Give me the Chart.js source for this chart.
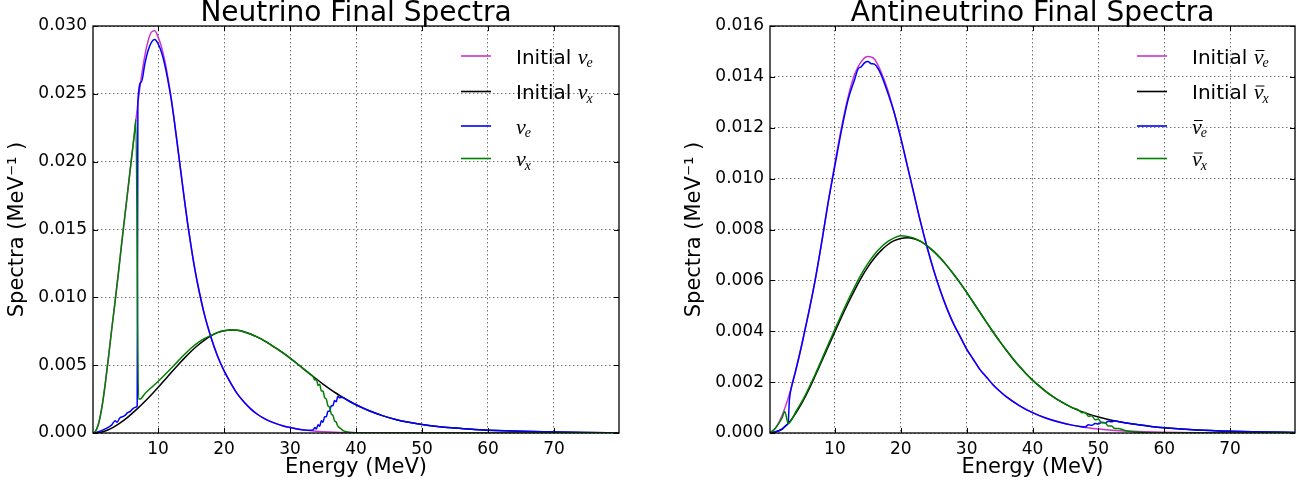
<!DOCTYPE html>
<html>
<head>
<meta charset="utf-8">
<script src="https://cdn.jsdelivr.net/npm/chart.js@4.4.0/dist/chart.umd.min.js"></script>
<style>
body { margin: 0; background: #fff; }
#wrap { position: relative; width: 1307px; height: 486px; }
canvas { position: absolute; top: 0; }
#c1 { left: 0; }
#c2 { left: 650px; }
</style>
</head>
<body>
<div id="wrap">
<canvas id="c1" width="650" height="486"></canvas>
<canvas id="c2" width="657" height="486"></canvas>
</div>
<script>
// tick labels
const xTicks = [10, 20, 30, 40, 50, 60, 70];
const yTicksL = [0, 0.005, 0.010, 0.015, 0.020, 0.025, 0.030];
const yTicksR = [0, 0.002, 0.004, 0.006, 0.008, 0.010, 0.012, 0.014, 0.016];

// energies for the initial nu_x curves (both panels)
const nuX0_E = [0.15, 1, 2, 3, 4, 5, 6, 7, 8, 9, 10, 11, 12, 13, 14, 15, 16, 17, 18, 19,
  20, 21, 22, 23, 24, 25, 26, 27, 28, 29, 30, 31, 32, 33, 34, 35, 36, 37, 38, 39,
  40, 41, 42, 43, 44, 46, 48, 50, 52, 55, 58, 60, 65, 70, 75, 79.85];

// ---- left panel: neutrinos ----
// initial nu_e (magenta)
const nuE0_E = [0.15, 0.5, 1, 1.5, 2, 2.5, 3, 3.5, 4, 4.5, 5, 5.5, 6, 6.5, 7, 7.5, 8, 8.5, 9, 9.5,
  10, 10.5, 11, 11.5, 12, 12.5, 13, 13.5, 14, 14.5, 15, 15.5, 16, 17, 18, 19, 20, 21, 22, 23,
  24, 25, 26, 27, 28, 29, 30, 32, 34, 36, 38, 40, 45, 79.85];
const nuE0 = [0, 0.0001, 0.0007, 0.0019, 0.0036, 0.0056, 0.0077, 0.0097, 0.0118, 0.0140,
  0.0161, 0.0182, 0.0203, 0.0224, 0.0245, 0.0263, 0.0278, 0.0289, 0.02955, 0.02965,
  0.0292, 0.0285, 0.0275, 0.0262, 0.0247, 0.0229, 0.0210, 0.0191, 0.0172, 0.0154,
  0.0138, 0.0123, 0.0110, 0.0088, 0.0071, 0.0057, 0.0046, 0.0037, 0.0029, 0.0023,
  0.0018, 0.0014, 0.0011, 0.00086, 0.00067, 0.00052, 0.0004,
  0.00023, 0.00013, 0.00007, 0.00004, 0.00002, 0, 0];

// initial nu_x (black)
const nuX0 = [0, 0.00003, 0.00015, 0.00036, 0.00065, 0.0010, 0.00141, 0.00185, 0.00232, 0.00282,
  0.00335, 0.0039, 0.00446, 0.0050, 0.00552, 0.00601, 0.00645, 0.00683, 0.00716, 0.0074,
  0.00754, 0.0076, 0.00757, 0.00747, 0.0073, 0.00708, 0.00683, 0.00654, 0.00622, 0.00588,
  0.00552, 0.00514, 0.00475, 0.00436, 0.00398, 0.00361, 0.00326, 0.00293, 0.00262, 0.00234,
  0.00208, 0.00185, 0.00164, 0.00145, 0.00128,
  0.0010, 0.00079, 0.00063, 0.0005, 0.00036, 0.00026, 0.00021, 0.00012, 0.00007, 0.00004, 0.00002];

// final nu_e (blue)
const nuE_E = [0.15, 1, 2, 3, 3.5, 3.8, 4.2, 4.6, 5, 5.4, 5.8, 6.2, 6.6, 6.85, 6.95, 7.5, 8, 8.5, 9, 9.5,
  10, 10.5, 11, 11.5, 12, 12.5, 13, 13.5, 14, 14.5, 15, 15.5, 16, 17, 18, 19, 20, 21, 22, 23,
  24, 25, 26, 27, 28, 29, 30, 31, 32, 33, 33.5, 33.75, 34, 34.25, 34.5, 34.75, 35, 35.25, 35.5, 35.75,
  36, 36.25, 36.5, 36.75, 37, 37.25, 37.5, 38, 38.5, 39, 40, 42, 44, 46, 48, 50, 52, 55, 58, 60,
  65, 70, 75, 79.85];
const nuE = [0, 0.0001, 0.0003, 0.0006, 0.0009, 0.0008, 0.0011, 0.0012, 0.0013, 0.0015,
  0.0016, 0.0018, 0.0019, 0.0020, 0.0244, 0.0259, 0.0272, 0.0282, 0.0288, 0.0290,
  0.0287, 0.0281, 0.0272, 0.0260, 0.0246, 0.0229, 0.0210, 0.0191, 0.0172, 0.0154,
  0.0138, 0.0123, 0.0110, 0.0088, 0.0071, 0.0057, 0.0046, 0.0037, 0.0029, 0.0023,
  0.0018, 0.0014, 0.0011, 0.00086, 0.00067, 0.00052, 0.0004, 0.0003, 0.00023, 0.0002,
  0.00022, 0.0004, 0.0003, 0.0006, 0.0005, 0.0009, 0.0008, 0.0012, 0.0012, 0.0016,
  0.0016, 0.0020, 0.0020, 0.0024, 0.0023, 0.0027, 0.0026, 0.00262, 0.00248, 0.00234,
  0.00208, 0.00164, 0.00128, 0.0010, 0.00079, 0.00063, 0.0005, 0.00036, 0.00026, 0.00021,
  0.00012, 0.00007, 0.00004, 0.00002];

// final nu_x (green)
const nuX_E = [0.15, 0.5, 1, 1.5, 2, 2.5, 3, 3.5, 4, 4.5, 5, 5.5, 6, 6.5, 6.65, 7.05, 7.3, 8, 9, 10,
  11, 12, 13, 14, 15, 16, 17, 18, 19, 20, 21, 22, 23, 24, 25, 26, 27, 28, 29, 30,
  31, 32, 33, 33.5, 33.75, 34, 34.25, 34.5, 34.75, 35, 35.25, 35.5, 35.75, 36, 36.25, 36.5, 36.75, 37, 37.25, 37.5,
  38, 38.5, 39, 40, 45, 79.85];
const nuX = [0, 0.0001, 0.0007, 0.0019, 0.0036, 0.0056, 0.0077, 0.0097, 0.0118, 0.0140,
  0.0161, 0.0182, 0.0203, 0.0224, 0.0231, 0.0025, 0.0025, 0.0029, 0.00335, 0.0038,
  0.00428, 0.00478, 0.00528, 0.00578, 0.00625, 0.00665, 0.00695, 0.0072, 0.0074, 0.00754,
  0.0076, 0.00757, 0.00747, 0.0073, 0.00708, 0.00683, 0.00654, 0.00622, 0.00588, 0.00552,
  0.00514, 0.00475, 0.00436, 0.00415, 0.0039, 0.00395, 0.0035, 0.0036, 0.0031, 0.0031,
  0.0026, 0.0025, 0.0020, 0.0019, 0.0014, 0.0013, 0.0009, 0.0008, 0.0005, 0.0004,
  0.0002, 0.0001, 0.00005, 0.00002, 0, 0];

// ---- right panel: antineutrinos ----
// initial anti nu_e (magenta)
const aE0_E = [0.15, 1, 2, 3, 4, 5, 6, 7, 8, 9, 10, 11, 12, 13, 14, 15, 16, 17, 18, 19,
  20, 21, 22, 23, 24, 25, 26, 27, 28, 29, 30, 31, 32, 33, 34, 35, 36, 38, 40, 42,
  44, 46, 48, 50, 52, 55, 60, 65, 70, 79.85];
const aE0 = [0, 0.0002, 0.0007, 0.00145, 0.0024, 0.0035, 0.0047, 0.0060, 0.0075, 0.0091,
  0.0106, 0.0120, 0.0132, 0.0141, 0.0146, 0.0148, 0.0147, 0.0142, 0.0135, 0.0126,
  0.0116, 0.0105, 0.0094, 0.0083, 0.0073, 0.0064, 0.0056, 0.0049, 0.0043, 0.0038,
  0.0033, 0.0029, 0.0025, 0.0022, 0.0019, 0.00165, 0.00143, 0.00108, 0.0008, 0.00059,
  0.00043, 0.00031, 0.00022, 0.00016, 0.00011, 0.00007, 0.00003, 0.00001, 0, 0];

// initial anti nu_x (black)
const aX0 = [0, 0.00004, 0.00016, 0.0004, 0.00075, 0.00118, 0.00168, 0.00224, 0.00282, 0.0034,
  0.00398, 0.00455, 0.0051, 0.00562, 0.0061, 0.00652, 0.00688, 0.00717, 0.0074, 0.00756,
  0.00765, 0.00768, 0.00764, 0.00753, 0.00736, 0.00714, 0.00688, 0.00658, 0.00625, 0.0059,
  0.00553, 0.00514, 0.00475, 0.00436, 0.00398, 0.00361, 0.00326, 0.00293, 0.00262, 0.00234,
  0.00208, 0.00185, 0.00164, 0.00145, 0.00128,
  0.0010, 0.00079, 0.00063, 0.0005, 0.00036, 0.00026, 0.00021, 0.00012, 0.00007, 0.00004, 0.00002];

// final anti nu_e (blue)
const aE_E = [0.15, 1, 1.9, 2.6, 2.9, 3.1, 3.5, 4, 5, 6, 7, 8, 9, 10, 11, 12, 13, 13.5, 14, 14.5,
  15, 15.5, 16, 16.5, 17, 18, 19, 20, 21, 22, 23, 24, 25, 26, 27, 28, 29, 30, 31, 32,
  33, 34, 35, 36, 38, 40, 42, 44, 46, 47, 48, 48.5, 49, 49.5, 50, 50.5, 51, 51.5, 52, 52.5,
  53, 55, 58, 60, 65, 70, 75, 79.85];
const aE = [0, 0.00005, 0.00013, 0.0003, 0.0004, 0.0013, 0.0019, 0.0024, 0.0035, 0.0047,
  0.0060, 0.0075, 0.0091, 0.0105, 0.0119, 0.0131, 0.0139, 0.0143, 0.0144, 0.01455,
  0.0146, 0.01452, 0.0145, 0.01435, 0.0141, 0.0134, 0.0126, 0.0116, 0.0105, 0.0094,
  0.0083, 0.0073, 0.0064, 0.0056, 0.0049, 0.0043, 0.0038, 0.0033, 0.0029, 0.0025,
  0.0022, 0.0019, 0.00165, 0.00143, 0.00108, 0.0008, 0.00059, 0.00043, 0.00031, 0.00027,
  0.00024, 0.00032, 0.0003, 0.00037, 0.00035, 0.00042, 0.0004, 0.00046, 0.00044, 0.00048,
  0.00045, 0.00036, 0.00026, 0.00021, 0.00012, 0.00007, 0.00004, 0.00002];

// final anti nu_x (green)
const aX_E = [0.15, 1, 2, 2.4, 2.9, 3.5, 4, 5, 6, 7, 8, 9, 10, 11, 12, 13, 14, 15, 16, 17,
  18, 19, 20, 21, 22, 23, 24, 25, 26, 27, 28, 29, 30, 31, 32, 33, 34, 35, 36, 37,
  38, 39, 40, 42, 44, 46, 47, 47.5, 48, 48.5, 49, 49.5, 50, 50.5, 51, 51.5, 52, 52.5, 53, 54,
  55, 57, 60, 79.85];
const aX = [0, 0.0002, 0.0006, 0.00085, 0.00037, 0.00055, 0.0008, 0.00124, 0.00175, 0.0023,
  0.00289, 0.00349, 0.00408, 0.00466, 0.00522, 0.00575, 0.00624, 0.00666, 0.00702, 0.0073,
  0.00752, 0.00767, 0.00775, 0.00773, 0.00766, 0.00754, 0.00736, 0.00714, 0.00688, 0.00658,
  0.00625, 0.0059, 0.00553, 0.00514, 0.00475, 0.00436, 0.00398, 0.00361, 0.00326, 0.00293,
  0.00262, 0.00234, 0.00208, 0.00164, 0.00128, 0.0010, 0.0009, 0.0008, 0.00081, 0.00066,
  0.00068, 0.00052, 0.00054, 0.0004, 0.0004, 0.00028, 0.00028, 0.00018, 0.00018, 0.0001,
  0.00006, 0.00002, 0, 0];

const colors = ['#cc33cc', '#000000', '#0000ff', '#008000'];
const FONT = '"DejaVu Sans", sans-serif';

Chart.defaults.font.family = FONT;
Chart.defaults.font.size = 17;
Chart.defaults.color = '#000';

const pts = (xs, ys) => xs.map((x, i) => ({ x: x, y: ys[i] }));

// legend, title, frame and inward ticks, matplotlib style
const mplDecor = {
  id: 'mplDecor',
  afterDatasetsDraw(chart, args, o) {
    const ctx = chart.ctx, a = chart.chartArea;
    const sx = chart.scales.x, sy = chart.scales.y;
    ctx.save();
    ctx.strokeStyle = '#000';
    ctx.lineWidth = 1;
    ctx.beginPath();
    xTicks.forEach(v => {
      const p = Math.round(sx.getPixelForValue(v)) + 0.5;
      ctx.moveTo(p, a.bottom); ctx.lineTo(p, a.bottom - 5);
      ctx.moveTo(p, a.top); ctx.lineTo(p, a.top + 5);
    });
    o.yTicks.forEach(v => {
      const p = Math.round(sy.getPixelForValue(v)) + 0.5;
      ctx.moveTo(a.left, p); ctx.lineTo(a.left + 5, p);
      ctx.moveTo(a.right, p); ctx.lineTo(a.right - 5, p);
    });
    ctx.stroke();
    ctx.lineWidth = 1.3;
    ctx.strokeRect(a.left, a.top, a.right - a.left, a.bottom - a.top);

    // title
    ctx.fillStyle = '#000';
    ctx.font = '28px ' + FONT;
    ctx.textAlign = 'center';
    ctx.textBaseline = 'alphabetic';
    ctx.fillText(o.title, (a.left + a.right) / 2, 21);

    // legend
    const rows = [30, 65.5, 100, 132.5];
    ctx.textAlign = 'left';
    chart.data.datasets.forEach((ds, i) => {
      const y = a.top + rows[i];
      const L = o.labels[i];
      ctx.strokeStyle = ds.borderColor;
      ctx.lineWidth = 1.6;
      ctx.beginPath();
      ctx.moveTo(a.right - 158, y); ctx.lineTo(a.right - 128, y);
      ctx.stroke();
      let x = a.right - 103;
      if (L.pre) {
        ctx.font = '20px ' + FONT;
        ctx.fillText(L.pre, x, y + 7.5);
        x += ctx.measureText(L.pre).width;
      }
      ctx.font = 'italic 22px "Liberation Serif", serif';
      ctx.fillText('\u03bd', x, y + 7.5);
      const w = ctx.measureText('\u03bd').width;
      if (L.bar) {
        ctx.strokeStyle = '#000';
        ctx.lineWidth = 1;
        ctx.beginPath();
        ctx.moveTo(x + 2, y - 5.5); ctx.lineTo(x + w + 1, y - 5.5);
        ctx.stroke();
      }
      ctx.font = 'italic 14px "Liberation Serif", serif';
      ctx.fillText(L.sub, x + w - 1, y + 11);
    });
    ctx.restore();
  }
};

function panel(id, cfg) {
  const ds = cfg.series.map((s, i) => ({
    label: cfg.names[i],
    data: pts(s[0], s[1]),
    borderColor: colors[i],
    borderWidth: 1.5,
    pointRadius: 0,
    cubicInterpolationMode: 'monotone',
    order: 4 - i
  }));
  return new Chart(document.getElementById(id), {
    type: 'line',
    data: { datasets: ds },
    plugins: [mplDecor],
    options: {
      responsive: false,
      animation: false,
      devicePixelRatio: 1,
      events: [],
      layout: { padding: { top: 26, right: cfg.rightPad, left: 0, bottom: 0 } },
      plugins: {
        legend: { display: false },
        tooltip: { enabled: false },
        mplDecor: { title: cfg.title, labels: cfg.labels, yTicks: cfg.yTicks }
      },
      scales: {
        x: {
          type: 'linear', min: 0.15, max: 79.85,
          afterBuildTicks: s => { s.ticks = xTicks.map(v => ({ value: v })); },
          afterFit: s => { s.height = 53; },
          ticks: { padding: 6, autoSkip: false, maxRotation: 0 },
          grid: { color: 'rgba(0,0,0,0.55)', lineWidth: 1, drawTicks: false },
          border: { display: false, dash: [1.5, 2.5] },
          title: { display: true, text: 'Energy (MeV)', font: { size: 21 }, padding: { top: 0, bottom: 6 } }
        },
        y: {
          min: 0, max: cfg.yTicks[cfg.yTicks.length - 1],
          afterBuildTicks: s => { s.ticks = cfg.yTicks.map(v => ({ value: v })); },
          afterFit: s => { s.width = cfg.yWidth; },
          ticks: { padding: 6, autoSkip: false, callback: v => v.toFixed(3) },
          grid: { color: 'rgba(0,0,0,0.55)', lineWidth: 1, drawTicks: false },
          border: { display: false, dash: [1.5, 2.5] },
          title: { display: true, text: 'Spectra (MeV\u207b\u00b9 )', font: { size: 21 }, padding: { top: cfg.yTitlePad, bottom: 0 } }
        }
      }
    }
  });
}

panel('c1', {
  title: 'Neutrino Final Spectra',
  names: ['Initial \u03bd_e', 'Initial \u03bd_x', '\u03bd_e', '\u03bd_x'],
  labels: [{ pre: 'Initial ', sub: 'e' }, { pre: 'Initial ', sub: 'x' }, { sub: 'e' }, { sub: 'x' }],
  series: [[nuE0_E, nuE0], [nuX0_E, nuX0], [nuE_E, nuE], [nuX_E, nuX]],
  yTicks: yTicksL, yWidth: 93, rightPad: 31, yTitlePad: 5
});

panel('c2', {
  title: 'Antineutrino Final Spectra',
  names: ['Initial anti \u03bd_e', 'Initial anti \u03bd_x', 'anti \u03bd_e', 'anti \u03bd_x'],
  labels: [{ pre: 'Initial ', sub: 'e', bar: true }, { pre: 'Initial ', sub: 'x', bar: true }, { sub: 'e', bar: true }, { sub: 'x', bar: true }],
  series: [[aE0_E, aE0], [nuX0_E, aX0], [aE_E, aE], [aX_E, aX]],
  yTicks: yTicksR, yWidth: 120, rightPad: 12, yTitlePad: 32
});
</script>
</body>
</html>
